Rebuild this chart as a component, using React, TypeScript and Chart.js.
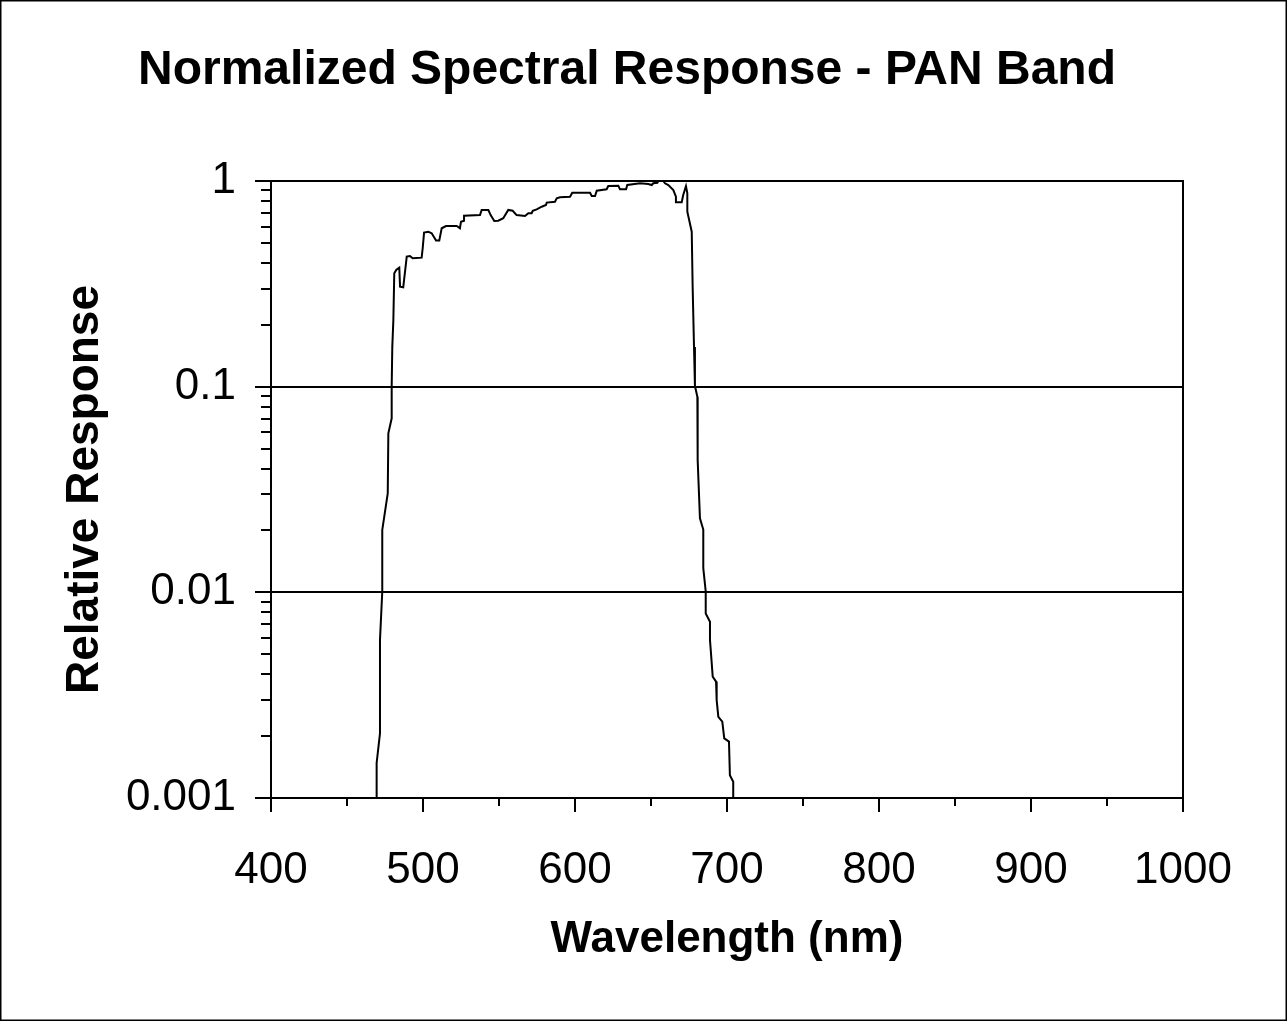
import React, { useEffect, useRef } from "react";
import { Chart, registerables } from "chart.js";

Chart.register(...registerables);

const FONT = "'Liberation Sans', Arial, Helvetica, sans-serif";

const chartTitle = "Normalized Spectral Response - PAN Band";
const xAxisTitle = "Wavelength (nm)";
const yAxisTitle = "Relative Response";

const xMin = 400;
const xMax = 1000;
const xStep = 100;
const xMinorTicks = [450, 550, 650, 750, 850, 950];
const yDecades = [0.001, 0.01, 0.1, 1];

const wavelengths = [
  469.1, 469.5, 471.7, 471.7, 473.2, 473.2, 476.8, 477.2, 479.4, 479.4,
  479.8, 480.5, 481.1, 482.5, 484.4, 484.9, 487.0, 489.3, 491.4, 493.2,
  499.1, 499.8, 500.7, 503.5, 505.7, 508.6, 510.7, 512.3, 515.1, 522.2,
  524.3, 525.0, 527.0, 527.0, 537.5, 538.6, 543.0, 544.5, 546.9, 549.5,
  552.8, 556.1, 559.0, 561.6, 567.1, 569.3, 571.5, 572.2, 574.8, 578.1,
  580.9, 581.4, 586.8, 588.0, 590.1, 596.7, 598.2, 609.9, 611.0, 613.2,
  614.3, 620.8, 621.9, 628.5, 629.6, 633.6, 634.4, 642.8, 648.2, 650.5,
  651.5, 654.2, 654.8, 658.1, 659.2, 661.4, 664.7, 666.4, 666.4, 670.2,
  671.2, 673.0, 673.9, 673.9, 676.8, 677.4, 678.3, 678.9, 680.5, 680.7,
  680.7, 682.2, 684.4, 684.4, 686.0, 686.0, 688.8, 688.8, 689.3, 690.6,
  692.8, 693.2, 694.3, 696.9, 698.2, 701.3, 701.9, 704.1, 704.1,
];

const responses = [
  0.001, 0.00148, 0.00206, 0.00586, 0.0101, 0.0201, 0.0303, 0.0593, 0.0702, 0.101,
  0.156, 0.211, 0.356, 0.37, 0.379, 0.306, 0.304, 0.429, 0.432, 0.421,
  0.424, 0.471, 0.561, 0.567, 0.557, 0.513, 0.513, 0.589, 0.604, 0.604,
  0.589, 0.634, 0.641, 0.678, 0.683, 0.723, 0.723, 0.683, 0.639, 0.641,
  0.659, 0.723, 0.717, 0.683, 0.676, 0.697, 0.697, 0.717, 0.728, 0.75,
  0.764, 0.785, 0.793, 0.824, 0.833, 0.839, 0.877, 0.877, 0.845, 0.845,
  0.897, 0.911, 0.945, 0.949, 0.911, 0.911, 0.956, 0.975, 0.967, 0.956,
  0.975, 0.981, 1.0, 1.0, 0.975, 0.956, 0.904, 0.839, 0.788, 0.788,
  0.855, 0.945, 0.871, 0.71, 0.567, 0.306, 0.156, 0.101, 0.0893, 0.0492,
  0.044, 0.0229, 0.0202, 0.0131, 0.0101, 0.0079, 0.0072, 0.00587, 0.00525, 0.00389,
  0.00368, 0.00299, 0.00248, 0.00235, 0.00195, 0.00188, 0.00129, 0.0012, 0.001,
];

const framePlugin = {
  id: "framePlugin",
  afterDraw(chart: any) {
    const { ctx, chartArea } = chart;
    const { left, right, top, bottom } = chartArea;
    const xs = chart.scales.x;
    const ys = chart.scales.y;
    ctx.save();
    ctx.strokeStyle = "#000";
    ctx.lineWidth = 2;
    ctx.strokeRect(left, top, right - left, bottom - top);
    ctx.beginPath();
    for (let v = xMin; v <= xMax; v += xStep) {
      const px = Math.round(xs.getPixelForValue(v));
      ctx.moveTo(px, bottom);
      ctx.lineTo(px, bottom + 14);
    }
    for (const v of xMinorTicks) {
      const px = Math.round(xs.getPixelForValue(v));
      ctx.moveTo(px, bottom);
      ctx.lineTo(px, bottom + 8);
    }
    for (const d of yDecades) {
      const py = Math.round(ys.getPixelForValue(d));
      ctx.moveTo(left - 16, py);
      ctx.lineTo(left, py);
    }
    for (let i = 0; i < yDecades.length - 1; i++) {
      for (let k = 2; k <= 9; k++) {
        const py = Math.round(ys.getPixelForValue(yDecades[i] * k));
        ctx.moveTo(left - 10, py);
        ctx.lineTo(left, py);
      }
    }
    ctx.stroke();
    ctx.lineWidth = 1.5;
    ctx.strokeRect(0.75, 0.75, chart.width - 1.5, chart.height - 1.5);
    ctx.restore();
  },
};

export default function App() {
  const canvasRef = useRef<HTMLCanvasElement | null>(null);

  useEffect(() => {
    document.body.style.margin = "0";
    const canvas = canvasRef.current;
    if (!canvas) return;
    const points = wavelengths.map((w, i) => ({ x: w, y: responses[i] }));
    const chart = new Chart(canvas, {
      type: "line",
      data: {
        datasets: [
          {
            data: points,
            borderColor: "#000",
            borderWidth: 2,
            pointRadius: 0,
            tension: 0,
            fill: false,
          },
        ],
      },
      options: {
        animation: false,
        responsive: false,
        maintainAspectRatio: false,
        layout: { padding: { left: 71, right: 104, top: 0, bottom: 0 } },
        plugins: {
          legend: { display: false },
          tooltip: { enabled: false },
          title: {
            display: true,
            text: chartTitle,
            color: "#000",
            font: { family: FONT, size: 48, weight: "bold" },
            padding: { top: 42, bottom: 81.4 },
          },
        },
        scales: {
          x: {
            type: "linear",
            min: xMin,
            max: xMax,
            ticks: {
              stepSize: xStep,
              color: "#000",
              font: { family: FONT, size: 44 },
              padding: 46,
              maxRotation: 0,
              callback: (v: any) => String(v),
            },
            grid: { display: false, drawTicks: false },
            border: { display: false },
            title: {
              display: true,
              text: xAxisTitle,
              color: "#000",
              font: { family: FONT, size: 44, weight: "bold" },
              padding: { top: 0, bottom: 55 },
            },
            afterFit: (s: any) => {
              s.height = 223;
            },
          },
          y: {
            type: "logarithmic",
            min: 0.001,
            max: 1,
            afterBuildTicks: (s: any) => {
              s.ticks = yDecades.map((v) => ({ value: v }));
            },
            ticks: {
              color: "#000",
              font: { family: FONT, size: 44 },
              padding: 35,
              callback: (v: any) => String(v),
            },
            grid: { color: "#000", lineWidth: 2, drawTicks: false },
            border: { display: false },
            title: {
              display: true,
              text: yAxisTitle,
              color: "#000",
              font: { family: FONT, size: 46, weight: "bold", lineHeight: 1 },
              padding: { top: -9, bottom: 0 },
            },
            afterFit: (s: any) => {
              s.width = 200;
            },
          },
        },
      },
      plugins: [framePlugin],
    });
    return () => chart.destroy();
  }, []);

  return (
    <div style={{ width: 1287, height: 1021, background: "#fff" }}>
      <canvas ref={canvasRef} width={1287} height={1021} style={{ display: "block" }} />
    </div>
  );
}
